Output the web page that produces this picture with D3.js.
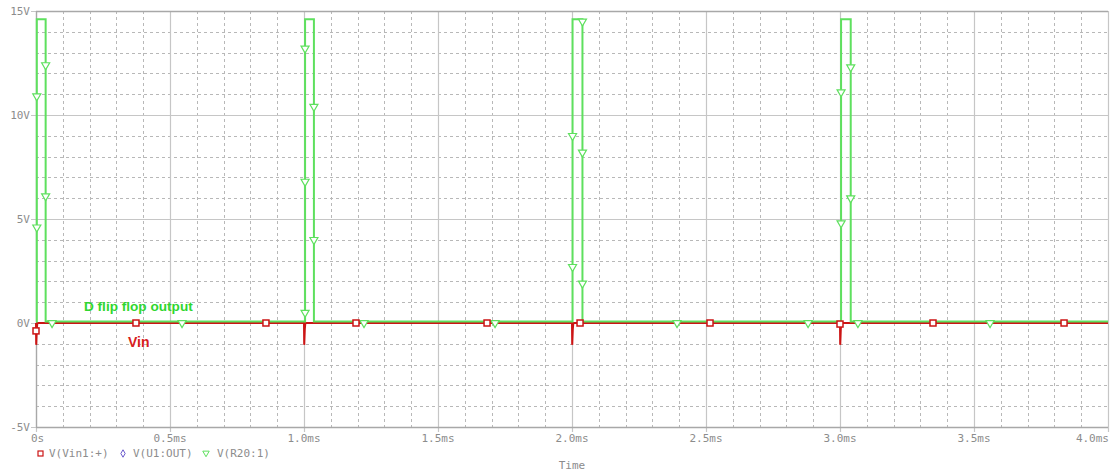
<!DOCTYPE html>
<html><head><meta charset="utf-8">
<script src="https://cdn.jsdelivr.net/npm/d3@7"></script>
<style>body{margin:0;background:#fff}svg{display:block}</style>
</head><body>
<svg id="c" width="1110" height="472"></svg>
<script>
// ---- data ----
const timeTicks = [0, 0.5, 1.0, 1.5, 2.0, 2.5, 3.0, 3.5, 4.0];
const timeLabels = ["0s", "0.5ms", "1.0ms", "1.5ms", "2.0ms", "2.5ms", "3.0ms", "3.5ms", "4.0ms"];
const voltTicks = [15, 10, 5, 0, -5];
const voltLabels = ["15V", "10V", "5V", "0V", "-5V"];

// V(R20:1) - D flip flop output (time ms, volts)
const outT = [0, 0.003, 0.003, 0.036, 0.036, 1.004, 1.004, 1.037, 1.037, 2.002, 2.002, 2.039, 2.039, 3.004, 3.004, 3.040, 3.040, 4.0];
const outV = [0.07, 0.07, 14.6, 14.6, 0.07, 0.07, 14.6, 14.6, 0.07, 0.07, 14.6, 14.6, 0.07, 0.07, 14.6, 14.6, 0.07, 0.07];
const outMarkT = [0.003, 0.003, 0.036, 0.036, 0.060, 0.545, 1.004, 1.004, 1.004, 1.037, 1.037, 1.224, 1.713, 2.002, 2.002, 2.039, 2.039, 2.039, 2.392, 2.881, 3.004, 3.004, 3.040, 3.040, 3.067, 3.560];
const outMarkV = [10.9, 4.6, 12.4, 6.1, 0, 0, 13.2, 6.8, 0.5, 10.4, 4.0, 0, 0, 9.0, 2.7, 14.5, 8.2, 1.9, 0, 0, 11.1, 4.8, 12.3, 6.0, 0, 0];

// V(Vin1:+) - input
const vinT = [0, 0.0008, 0.003, 0.005, 1.0, 1.0008, 1.003, 1.005, 2.0, 2.0008, 2.003, 2.005, 3.0, 3.0008, 3.003, 3.005, 4.0];
const vinV = [0, -1.05, -0.3, 0, 0, -1.05, -0.3, 0, 0, -1.05, -0.3, 0, 0, -1.05, -0.3, 0, 0];
const vinMarkT = [0.0, 0.373, 0.858, 1.194, 1.683, 2.030, 2.515, 3.000, 3.347, 3.836];
const vinMarkV = [-0.38, 0, 0, 0, 0, 0, 0, -0.05, 0, 0];

const legendNames = ["V(Vin1:+)", "V(U1:OUT)", "V(R20:1)"];

// ---- chart ----
const svg = d3.select("#c");
const L = 36, R = 1108, T = 11, B = 427;
const x = d3.scaleLinear().domain([0, 4]).range([L, R]);
const y = d3.scaleLinear().domain([-5, 15]).range([B, T]);
const GREEN = "#5ee05e", RED = "#cc1414", GRID = "#c6c6c6", TXT = "#8c8c8c";
const mono = "'DejaVu Sans Mono', monospace";

// minor grid
const g = svg.append("g");
const minorX = d3.range(0, 40).map(i => i / 10).filter((d, i) => i % 5 !== 0);
const minorY = d3.range(-5, 16).filter(d => d % 5 !== 0);
g.selectAll(".mx").data(minorX).join("line")
  .attr("x1", d => Math.round(x(d)) + 0.5).attr("x2", d => Math.round(x(d)) + 0.5)
  .attr("y1", T).attr("y2", B).attr("stroke", "#b8b8b8").attr("stroke-dasharray", "3,3");
g.selectAll(".my").data(minorY).join("line")
  .attr("y1", d => Math.round(y(d)) + 0.5).attr("y2", d => Math.round(y(d)) + 0.5)
  .attr("x1", L).attr("x2", R).attr("stroke", "#b8b8b8").attr("stroke-dasharray", "3,3");
// major grid
g.selectAll(".Mx").data(timeTicks).join("line")
  .attr("x1", d => Math.round(x(d)) + 0.5).attr("x2", d => Math.round(x(d)) + 0.5)
  .attr("y1", T).attr("y2", B + 5).attr("stroke", GRID).attr("stroke-width", 1.2);
g.selectAll(".My").data(voltTicks).join("line")
  .attr("y1", d => Math.round(y(d)) + 0.5).attr("y2", d => Math.round(y(d)) + 0.5)
  .attr("x1", L - 5).attr("x2", R).attr("stroke", GRID).attr("stroke-width", 1.2);
// frame
svg.append("line").attr("x1", L + 0.5).attr("x2", L + 0.5).attr("y1", T).attr("y2", B).attr("stroke", "#a8a8a8").attr("stroke-width", 1.3);
svg.append("line").attr("x1", L).attr("x2", R).attr("y1", B + 0.5).attr("y2", B + 0.5).attr("stroke", "#a8a8a8").attr("stroke-width", 1.3);
svg.append("line").attr("x1", L).attr("x2", R).attr("y1", T + 0.5).attr("y2", T + 0.5).attr("stroke", "#a8a8a8").attr("stroke-width", 1.3);

// tick labels
svg.selectAll(".yl").data(voltTicks).join("text")
  .attr("x", 30).attr("y", d => y(d) + 4).attr("text-anchor", "end")
  .attr("font-family", mono).attr("font-size", 11).attr("fill", TXT)
  .text((d, i) => voltLabels[i]);
svg.selectAll(".xl").data(timeTicks).join("text")
  .attr("x", (d, i) => i === timeTicks.length - 1 ? 1109 : (i === 0 ? x(d) - 5 : x(d)))
  .attr("y", 442)
  .attr("text-anchor", (d, i) => i === timeTicks.length - 1 ? "end" : (i === 0 ? "start" : "middle"))
  .attr("font-family", mono).attr("font-size", 11).attr("fill", TXT)
  .text((d, i) => timeLabels[i]);
svg.append("text").attr("x", 572).attr("y", 469).attr("text-anchor", "middle")
  .attr("font-family", mono).attr("font-size", 11).attr("fill", TXT).text("Time");

// traces
const line = d3.line().x(d => x(d[0])).y(d => y(d[1]));
svg.append("path").datum(vinT.map((t, i) => [t, vinV[i]]))
  .attr("d", line).attr("fill", "none").attr("stroke", RED).attr("stroke-width", 2);
svg.append("path").datum(outT.map((t, i) => [t, outV[i]]))
  .attr("d", line).attr("fill", "none").attr("stroke", GREEN).attr("stroke-width", 2);

// markers
const tri = d3.symbol().type(d3.symbolTriangle).size(28);
svg.selectAll(".gm").data(outMarkT.map((t, i) => [t, outMarkV[i]])).join("path")
  .attr("d", tri).attr("transform", d => `translate(${x(d[0])},${y(d[1])}) rotate(180)`)
  .attr("fill", "#fff").attr("stroke", GREEN).attr("stroke-width", 1.2);
svg.selectAll(".rm").data(vinMarkT.map((t, i) => [t, vinMarkV[i]])).join("rect")
  .attr("x", d => x(d[0]) - 3).attr("y", d => y(d[1]) - 3).attr("width", 6).attr("height", 6)
  .attr("fill", "#fff").attr("stroke", RED).attr("stroke-width", 1.5);

// annotations
svg.append("text").attr("x", 84).attr("y", 311).attr("font-family", "Arial, 'Liberation Sans', sans-serif")
  .attr("font-weight", "bold").attr("font-size", 13.6).attr("fill", "#2fd62f").text("D flip flop output");
svg.append("text").attr("x", 128).attr("y", 347).attr("font-family", "Arial, 'Liberation Sans', sans-serif")
  .attr("font-weight", "bold").attr("font-size", 14).attr("fill", "#d82020").text("Vin");

// legend
const lg = svg.append("g");
lg.append("rect").attr("x", 38).attr("y", 451).attr("width", 5).attr("height", 5).attr("fill", "none").attr("stroke", RED).attr("stroke-width", 1.2);
lg.append("path").attr("d", d3.symbol().type(d3.symbolDiamond).size(16)).attr("transform", "translate(123,453.5)").attr("fill", "none").attr("stroke", "#6a5acd").attr("stroke-width", 1);
lg.append("path").attr("d", d3.symbol().type(d3.symbolTriangle).size(18)).attr("transform", "translate(206,453) rotate(180)").attr("fill", "none").attr("stroke", GREEN).attr("stroke-width", 1);
const lx = [49, 133, 217];
lg.selectAll("text").data(legendNames).join("text")
  .attr("x", (d, i) => lx[i]).attr("y", 457)
  .attr("font-family", mono).attr("font-size", 11).attr("fill", TXT).text(d => d);
</script>
</body></html>
